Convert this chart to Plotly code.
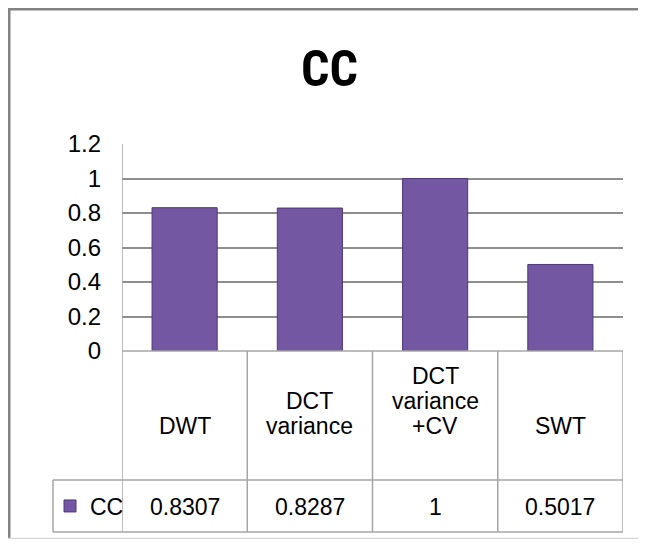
import plotly.graph_objects as go

categories = ["DWT", "DCT variance", "DCT variance +CV", "SWT"]
header_lines = [["DWT"], ["DCT", "variance"], ["DCT", "variance", "+CV"], ["SWT"]]
values = [0.8307, 0.8287, 1, 0.5017]
value_labels = ["0.8307", "0.8287", "1", "0.5017"]
series_name = "CC"
title_text = "CC"
y_ticks = [0, 0.2, 0.4, 0.6, 0.8, 1, 1.2]
y_tick_labels = ["0", "0.2", "0.4", "0.6", "0.8", "1", "1.2"]

# page body has an 8px margin; figure pixels = reference pixels - OFF
OFF = 8
W, H = 646 - 2 * OFF, 547 - 2 * OFF
def px_x(p): return (p - OFF) / W
def px_y(p): return 1 - (p - OFF) / H

FONT = "Liberation Sans, Arial, sans-serif"
NARROW = "Liberation Sans Narrow, Roboto Condensed, DejaVu Sans Condensed, Liberation Sans, sans-serif"
GRID = "#8e8e8e"
TLINE = "#a6a6a6"
BAR = "#7457a2"

plot_left, plot_right = 122, 623
plot_top, plot_bottom = 144, 351
row1_bottom, row2_bottom = 480, 532
legend_left = 53

fig = go.Figure()
fig.add_trace(go.Bar(
    x=categories, y=values, name=series_name,
    marker=dict(color=BAR, line=dict(color="#4e3878", width=1)),
    showlegend=True,
))

shapes = []
# frame (top/left gray, bottom light) as filled strips
shapes.append(dict(type="rect", xref="paper", yref="paper", x0=0, x1=1, y0=1 - 2.5 / H, y1=1,
                   fillcolor="#828282", line=dict(width=0)))
shapes.append(dict(type="rect", xref="paper", yref="paper", x0=0, x1=2.5 / W, y0=0, y1=1,
                   fillcolor="#828282", line=dict(width=0)))
shapes.append(dict(type="rect", xref="paper", yref="paper", x0=0, x1=1, y0=0, y1=1.2 / H,
                   fillcolor="#d4d4d4", line=dict(width=0)))
# table horizontal lines
shapes.append(dict(type="line", xref="paper", yref="paper", x0=px_x(plot_left), x1=px_x(plot_right),
                   y0=px_y(plot_bottom), y1=px_y(plot_bottom), line=dict(color=TLINE, width=1.5)))
for yy in (row1_bottom, row2_bottom):
    shapes.append(dict(type="line", xref="paper", yref="paper", x0=px_x(legend_left), x1=px_x(plot_right),
                       y0=px_y(yy), y1=px_y(yy), line=dict(color=TLINE, width=1.5)))
# vertical boundaries at category edges
n = len(categories)
for i in range(n + 1):
    top = plot_top if i == 0 else plot_bottom
    shapes.append(dict(type="line", xref="x", yref="paper", x0=i - 0.5, x1=i - 0.5,
                       y0=px_y(top), y1=px_y(row2_bottom), line=dict(color=TLINE, width=1.5)))
shapes.append(dict(type="line", xref="paper", yref="paper", x0=px_x(legend_left), x1=px_x(legend_left),
                   y0=px_y(row1_bottom), y1=px_y(row2_bottom), line=dict(color=TLINE, width=1.5)))

annotations = []
line_h = 25
header_base = 426  # centre of the last header line
for cat, lines in zip(categories, header_lines):
    k = len(lines)
    for j, ln in enumerate(lines):
        yc = header_base - (k - 1 - j) * line_h
        annotations.append(dict(x=cat, xref="x", yref="paper", y=px_y(yc), text=ln, showarrow=False,
                                xanchor="center", yanchor="middle",
                                font=dict(family=FONT, size=23, color="#000")))
for cat, lab in zip(categories, value_labels):
    annotations.append(dict(x=cat, xref="x", yref="paper", y=px_y(507), text=lab, showarrow=False,
                            xanchor="center", yanchor="middle",
                            font=dict(family=FONT, size=23, color="#000")))
annotations.append(dict(x=px_x(329), y=px_y(69), xref="paper", yref="paper", text="<b>%s</b>" % title_text,
                        showarrow=False, xanchor="center", yanchor="middle",
                        font=dict(family=NARROW, size=50, color="#000")))

fig.update_layout(
    width=W, height=H, margin=dict(l=0, r=0, t=0, b=0, pad=0, autoexpand=False),
    paper_bgcolor="white", plot_bgcolor="white",
    bargap=0.48,
    xaxis=dict(domain=[px_x(plot_left), px_x(plot_right)], range=[-0.5, n - 0.5], automargin=False,
               showticklabels=False, showgrid=False, zeroline=False, showline=False, ticks=""),
    yaxis=dict(domain=[px_y(plot_bottom), px_y(plot_top)], range=[0, 1.2], automargin=False,
               tickvals=y_ticks, ticktext=y_tick_labels, showgrid=True, gridcolor=GRID, gridwidth=1.5,
               zeroline=False, showline=False, ticks="", ticklabelstandoff=20,
               tickfont=dict(family=FONT, size=24, color="#000")),
    shapes=shapes, annotations=annotations,
    legend=dict(x=px_x(50), y=px_y(506), xanchor="left", yanchor="middle",
                font=dict(family=FONT, size=23, color="#000"), bgcolor="rgba(0,0,0,0)",
                itemwidth=30, tracegroupgap=0),
    showlegend=True,
)
fig.write_html("out.html")
